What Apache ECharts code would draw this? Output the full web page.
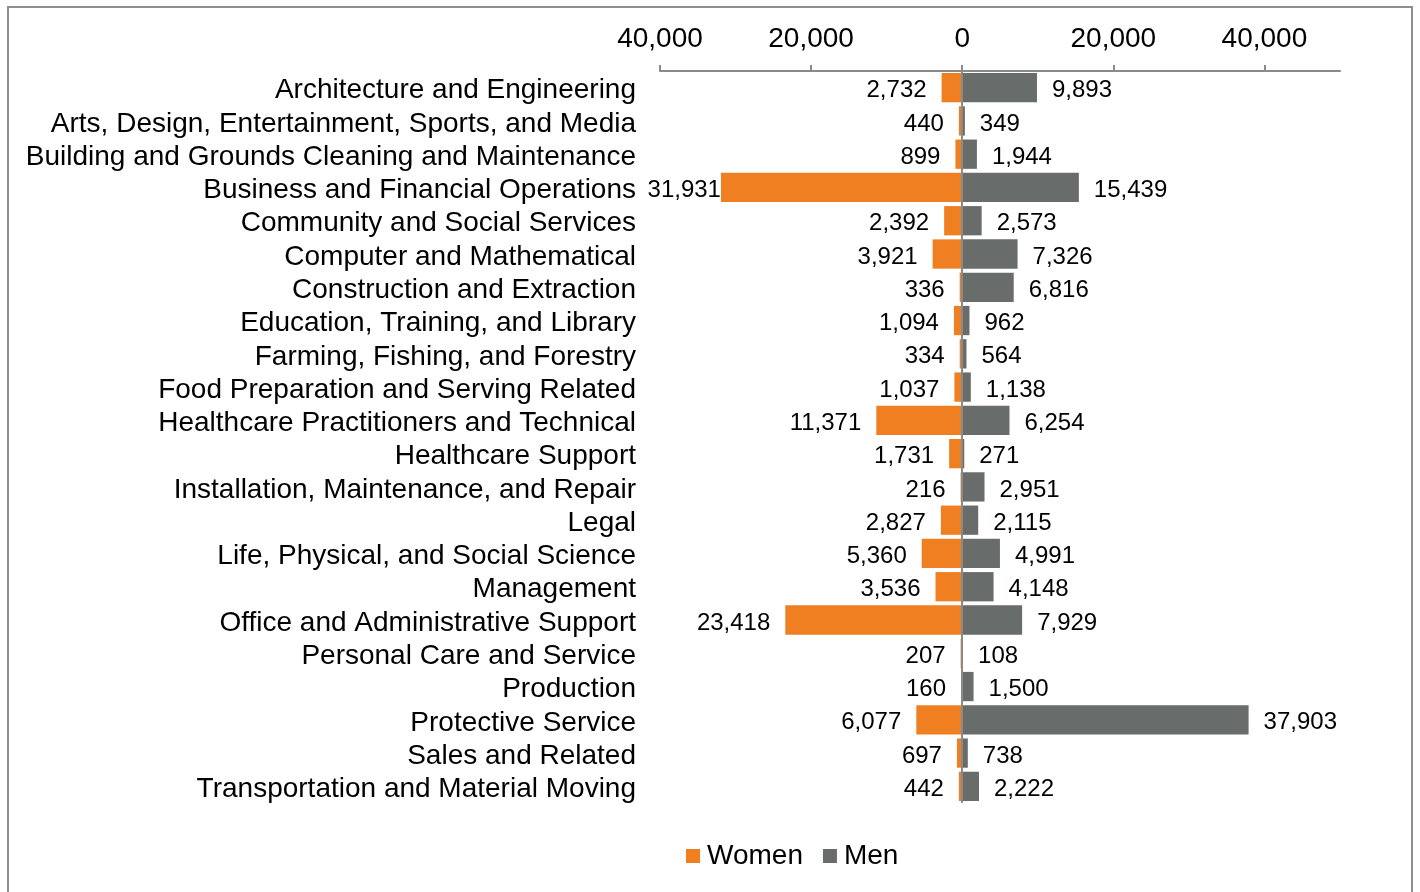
<!DOCTYPE html>
<html><head><meta charset="utf-8">
<script src="https://cdn.jsdelivr.net/npm/echarts@6/dist/echarts.min.js"></script>
<style>html,body{margin:0;padding:0;background:#fff}#c{width:1420px;height:892px}</style>
</head><body><div id="c"></div>
<script>
const categories = [
  "Architecture and Engineering",
  "Arts, Design, Entertainment, Sports, and Media",
  "Building and Grounds Cleaning and Maintenance",
  "Business and Financial Operations",
  "Community and Social Services",
  "Computer and Mathematical",
  "Construction and Extraction",
  "Education, Training, and Library",
  "Farming, Fishing, and Forestry",
  "Food Preparation and Serving Related",
  "Healthcare Practitioners and Technical",
  "Healthcare Support",
  "Installation, Maintenance, and Repair",
  "Legal",
  "Life, Physical, and Social Science",
  "Management",
  "Office and Administrative Support",
  "Personal Care and Service",
  "Production",
  "Protective Service",
  "Sales and Related",
  "Transportation and Material Moving"
];
const women = [2732, 440, 899, 31931, 2392, 3921, 336, 1094, 334, 1037, 11371, 1731, 216, 2827, 5360, 3536, 23418, 207, 160, 6077, 697, 442];
const men = [9893, 349, 1944, 15439, 2573, 7326, 6816, 962, 564, 1138, 6254, 271, 2951, 2115, 4991, 4148, 7929, 108, 1500, 37903, 738, 2222];
const xTicks = [-40000, -20000, 0, 20000, 40000];

const fmt = v => Math.abs(v).toLocaleString('en-US');
const FONT = 'Liberation Sans, Arial, sans-serif';
const labelBase = {show: true, fontFamily: FONT, fontSize: 24, color: '#000',
  verticalAlign: 'top', lineHeight: 6,
  formatter: p => fmt(p.value)};
// Labels that would spill past the plot area sit flush against the bar (as in the source)
const womenData = women.map(v => v > 25000
  ? {value: -v, label: {distance: 0}}
  : -v);

const chart = echarts.init(document.getElementById('c'));
chart.setOption({
  animation: false,
  backgroundColor: '#fff',
  graphic: [{
    type: 'rect', shape: {x: 8, y: 7, width: 1404, height: 900},
    style: {fill: 'none', stroke: '#8f8f8f', lineWidth: 2}, silent: true, z: -1
  }],
  grid: {left: 660, right: 80, top: 71, bottom: 89, containLabel: false},
  legend: {
    data: ['Women', 'Men'], left: 681, top: 837, itemWidth: 14, itemHeight: 14, itemGap: 20,
    icon: 'rect',
    textStyle: {fontFamily: FONT, fontSize: 28, color: '#000', padding: [0, 0, 0, 2]}
  },
  xAxis: {
    type: 'value', position: 'top', min: -40000, max: 50000, interval: 20000,
    axisLine: {show: true, lineStyle: {color: '#8a8a8a', width: 2}},
    axisTick: {show: true, length: 6, lineStyle: {color: '#8a8a8a', width: 2}},
    splitLine: {show: false},
    axisLabel: {
      fontFamily: FONT, fontSize: 28, color: '#000', margin: 18, showMaxLabel: false,
      formatter: v => xTicks.indexOf(v) >= 0 ? fmt(v) : ''
    }
  },
  yAxis: {
    type: 'category', data: categories, inverse: true,
    axisLine: {show: false}, axisTick: {show: false},
    axisLabel: {fontFamily: FONT, fontSize: 28, color: '#000', margin: 24, interval: 0,
      verticalAlign: 'top', lineHeight: 6}
  },
  series: [{
    name: 'Women', type: 'bar', data: womenData, barWidth: '88%', barGap: '-100%',
    itemStyle: {color: '#F07F22'},
    label: Object.assign({position: 'left', distance: 15}, labelBase),
    markLine: {
      silent: true, symbol: 'none', label: {show: false},
      lineStyle: {color: '#8a8a8a', width: 2, type: 'solid'},
      data: [{xAxis: 0}], z: 10
    }
  }, {
    name: 'Men', type: 'bar', data: men, barWidth: '88%',
    itemStyle: {color: '#686C6B'},
    label: Object.assign({position: 'right', distance: 15}, labelBase)
  }]
});
</script></body></html>
